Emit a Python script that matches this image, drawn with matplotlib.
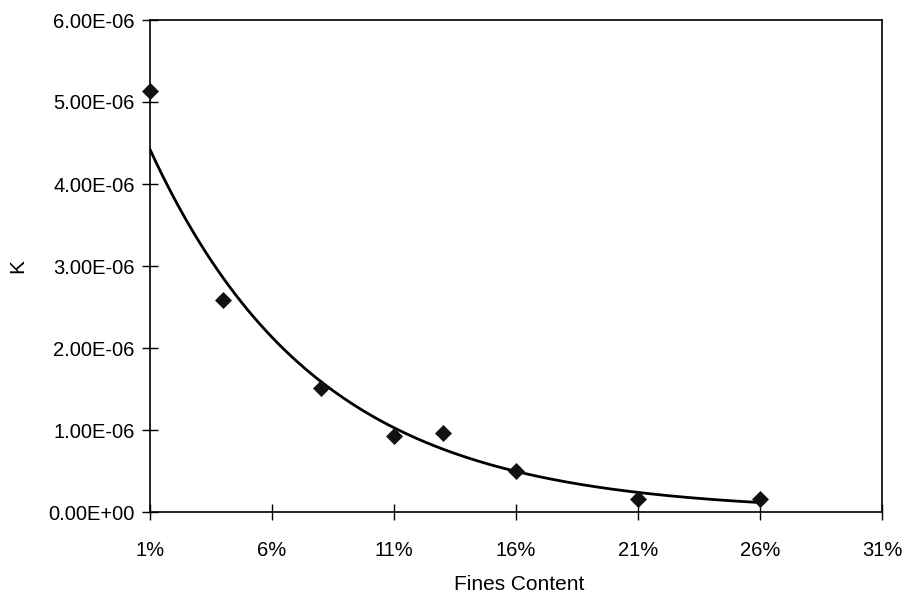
import numpy as np
import matplotlib
matplotlib.use("Agg")
import matplotlib.pyplot as plt
from matplotlib.ticker import FuncFormatter

plt.rcParams['font.family'] = ['Liberation Sans', 'DejaVu Sans']

fines = [0.01, 0.04, 0.08, 0.11, 0.13, 0.16, 0.21, 0.26]
k_vals = [5.13e-6, 2.59e-6, 1.51e-6, 0.93e-6, 0.96e-6, 0.50e-6, 0.155e-6, 0.155e-6]

x_ticks = [0.01, 0.06, 0.11, 0.16, 0.21, 0.26, 0.31]
y_ticks = [0, 1e-6, 2e-6, 3e-6, 4e-6, 5e-6, 6e-6]

fig = plt.figure(figsize=(9.09, 5.99), dpi=100)
ax = fig.add_axes([150/909, 1-512/599, (882-150)/909, (512-20)/599])

# exponential trend line (least squares on log)
xa = np.array(fines)
b, a = np.polyfit(xa, np.log(np.array(k_vals)), 1)
xt = np.linspace(min(fines), max(fines), 200)
ax.plot(xt, np.exp(a + b*xt), color='black', lw=2.0, zorder=2)

ax.scatter(fines, k_vals, marker='D', s=75, color='#111111', zorder=3,
           linewidths=0, clip_on=False)

ax.set_xlim(0.01, 0.31)
ax.set_ylim(0, 6e-6)
ax.set_xticks(x_ticks)
ax.set_yticks(y_ticks)
ax.xaxis.set_major_formatter(FuncFormatter(lambda v, p: f"{v*100:.0f}%"))
ax.yaxis.set_major_formatter(FuncFormatter(lambda v, p: f"{v:.2E}"))
ax.tick_params(direction='inout', length=12, width=1.0, labelsize=14.5, colors='black')
ax.tick_params(axis='x', pad=15)
ax.tick_params(axis='y', pad=5)
for s in ax.spines.values():
    s.set_linewidth(1.2)
    s.set_color('black')

ax.set_xlabel('Fines Content', fontsize=15)
ax.set_ylabel('K', fontsize=15)
ax.xaxis.set_label_coords(0.505, -0.128)
ax.yaxis.set_label_coords(-0.168, 0.5)

fig.savefig('out.png', dpi=100)
